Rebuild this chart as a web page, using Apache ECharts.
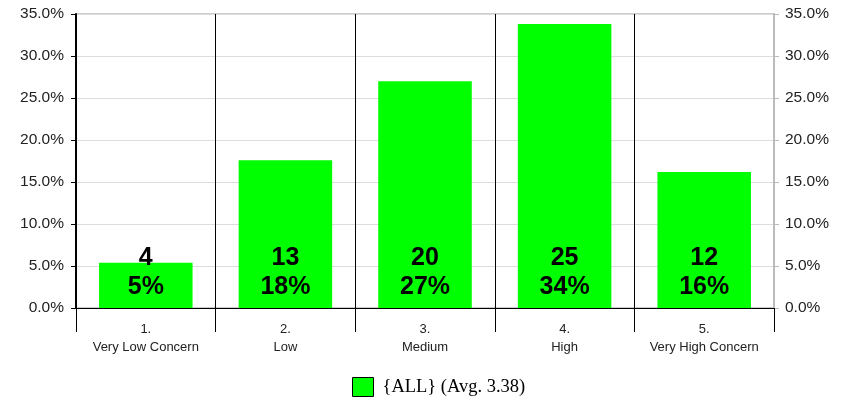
<!DOCTYPE html>
<html>
<head>
<meta charset="utf-8">
<script src="https://cdn.jsdelivr.net/npm/echarts@6/dist/echarts.min.js"></script>
<style>html,body{margin:0;padding:0;background:#fff}#c{width:847px;height:400px}</style>
</head>
<body>
<div id="c"></div>
<script>
var categories = ['1.\nVery Low Concern', '2.\nLow', '3.\nMedium', '4.\nHigh', '5.\nVery High Concern'];
var counts = [4, 13, 20, 25, 12];
var percents = [5.4, 17.6, 27.0, 33.8, 16.2];
var yTicks = [0, 5, 10, 15, 20, 25, 30, 35];
var seriesName = '{ALL} (Avg. 3.38)';

var chart = echarts.init(document.getElementById('c'), null, {renderer: 'canvas'});
var font = 'Liberation Sans, Arial, sans-serif';
var yLabel = {
  fontFamily: font, fontSize: 15.5, color: '#222',
  formatter: function (v) { return v.toFixed(1) + '%'; }
};
chart.setOption({
  animation: false,
  grid: {left: 76, right: 73, top: 14, bottom: 92, show: true, borderColor: '#999', borderWidth: 1},
  legend: {
    left: 352, top: 377, padding: 0, icon: 'rect', itemWidth: 21, itemHeight: 19, itemGap: 10,
    textStyle: {fontFamily: 'Liberation Serif, Times New Roman, serif', fontSize: 18.5, lineHeight: 19, color: '#000', padding: [0, 0, 0, 4]},
    itemStyle: {borderColor: '#000', borderWidth: 1},
    data: [seriesName]
  },
  xAxis: {
    type: 'category', data: categories, boundaryGap: true,
    axisLine: {lineStyle: {color: '#000', width: 1}},
    axisTick: {show: true, interval: 0, length: 24, lineStyle: {color: '#000', width: 1}},
    splitLine: {show: true, interval: 0, lineStyle: {color: '#000', width: 1}},
    axisLabel: {interval: 0, margin: 12, fontFamily: font, fontSize: 13, color: '#222', lineHeight: 18}
  },
  yAxis: [{
    type: 'value', min: 0, max: 35, interval: 5, position: 'left',
    axisLine: {show: true, lineStyle: {color: '#000', width: 2}},
    axisTick: {show: true, length: 5, lineStyle: {color: '#000'}},
    splitLine: {show: true, lineStyle: {color: '#ddd', width: 1}},
    axisLabel: Object.assign({margin: 12}, yLabel)
  }, {
    type: 'value', min: 0, max: 35, interval: 5, position: 'right',
    axisLine: {show: true, lineStyle: {color: '#bbb', width: 2}},
    axisTick: {show: true, length: 5, lineStyle: {color: '#bbb'}},
    splitLine: {show: false},
    axisLabel: Object.assign({margin: 11}, yLabel)
  }],
  series: [{
    name: seriesName, type: 'bar', barWidth: '67%',
    itemStyle: {color: '#00ff00', borderColor: '#000', borderWidth: 0},
    data: percents,
    label: {
      show: true, position: 'insideBottom', distance: 6,
      formatter: function (p) {
        return '{a|' + counts[p.dataIndex] + '}\n{a|' + Math.round(p.value) + '%}';
      },
      rich: {a: {fontFamily: font, fontWeight: 'bold', fontSize: 25, color: '#000', lineHeight: 29, align: 'center'}}
    }
  }]
});
</script>
</body>
</html>
